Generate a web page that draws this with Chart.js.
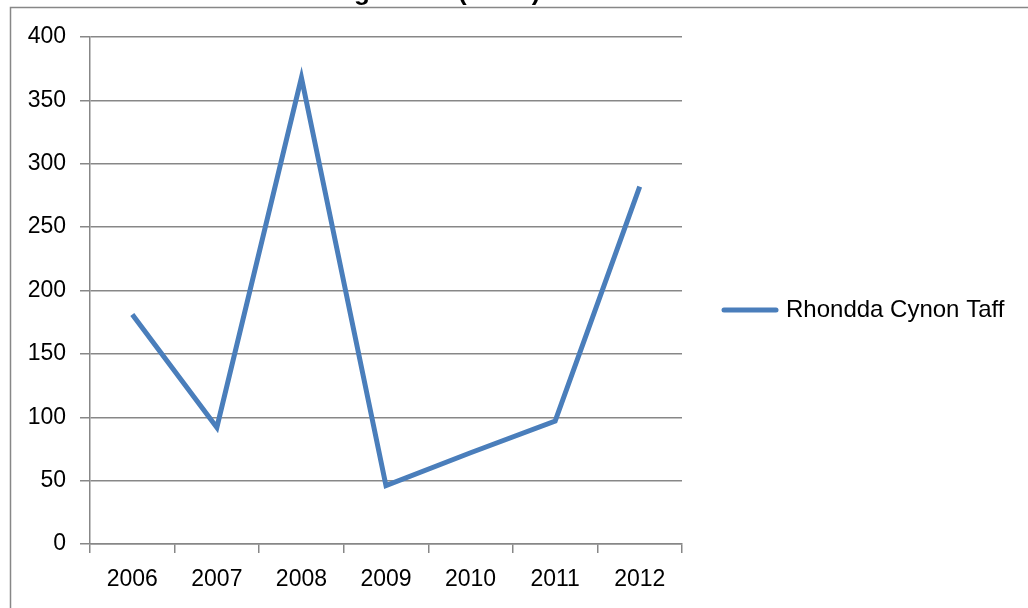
<!DOCTYPE html>
<html>
<head>
<meta charset="utf-8">
<script src="https://cdn.jsdelivr.net/npm/chart.js@4/dist/chart.umd.min.js"></script>
<style>
  html, body { margin: 0; padding: 0; background: #fff; }
  #wrap { width: 1028px; height: 608px; }
</style>
</head>
<body>
<div id="wrap"><canvas id="chart" width="1028" height="608"></canvas></div>
<script>
// yearly figures
var years = ['2006', '2007', '2008', '2009', '2010', '2011', '2012'];
var rct = [181, 92, 368, 46, 72, 97, 282];
var yTicks = [0, 50, 100, 150, 200, 250, 300, 350, 400];
var seriesName = 'Rhondda Cynon Taff';
var chartTitle = 'Housing Starts (Units)';

var fontFamily = '"Liberation Sans", Arial, sans-serif';
var lineColor = '#4a7ebb';
var gridColor = '#878787';

// outer frame, clipped title and legend drawn straight onto the canvas
var framePlugin = {
    id: 'frame',
    beforeDraw: function (chart) {
        var ctx = chart.ctx;
        ctx.save();
        ctx.strokeStyle = gridColor;
        ctx.lineWidth = 1.5;
        ctx.beginPath();
        ctx.moveTo(10.5, chart.height);
        ctx.lineTo(10.5, 7.5);
        ctx.lineTo(chart.width, 7.5);
        ctx.stroke();

        ctx.fillStyle = '#000';
        ctx.font = 'bold 26px "Liberation Sans", Arial, sans-serif';
        ctx.textBaseline = 'alphabetic';
        var prefix = 'Housing Starts ';
        var x0 = 458 - ctx.measureText(prefix).width;
        ctx.fillText(chartTitle, x0, 0);
        ctx.restore();
    },
    afterDraw: function (chart) {
        var ctx = chart.ctx;
        var y = 310;
        ctx.save();
        ctx.strokeStyle = lineColor;
        ctx.lineWidth = 5;
        ctx.lineCap = 'round';
        ctx.beginPath();
        ctx.moveTo(724, y);
        ctx.lineTo(776, y);
        ctx.stroke();
        ctx.fillStyle = '#000';
        ctx.font = '24px ' + fontFamily;
        ctx.textBaseline = 'middle';
        ctx.fillText(seriesName, 786, y);
        ctx.restore();
    }
};

var ctx = document.getElementById('chart').getContext('2d');
var chart = new Chart(ctx, {
    type: 'line',
    data: {
        labels: years,
        datasets: [{
            label: seriesName,
            data: rct,
            borderColor: lineColor,
            borderWidth: 5,
            pointRadius: 0,
            tension: 0,
            fill: false
        }]
    },
    options: {
        responsive: false,
        animation: false,
        layout: {
            padding: { left: 0, top: 37, right: 346, bottom: 0 }
        },
        plugins: {
            legend: { display: false },
            title: { display: false },
            tooltip: { enabled: false }
        },
        scales: {
            x: {
                offset: true,
                grid: {
                    offset: true,
                    drawOnChartArea: false,
                    drawTicks: true,
                    tickLength: 9,
                    color: gridColor,
                    lineWidth: 1.5
                },
                border: { color: gridColor, width: 1.5 },
                ticks: {
                    color: '#000',
                    padding: 13,
                    maxRotation: 0,
                    font: { family: fontFamily, size: 23 }
                },
                afterFit: function (scale) { scale.height = 64; }
            },
            y: {
                min: 0,
                max: 400,
                afterBuildTicks: function (scale) {
                    scale.ticks = yTicks.map(function (v) { return { value: v }; });
                },
                grid: {
                    color: gridColor,
                    lineWidth: 1.5,
                    drawTicks: true,
                    tickLength: 10
                },
                border: { color: gridColor, width: 1.5 },
                ticks: {
                    color: '#000',
                    padding: 14,
                    font: { family: fontFamily, size: 23 }
                },
                afterFit: function (scale) { scale.width = 90; }
            }
        }
    },
    plugins: [framePlugin]
});
</script>
</body>
</html>
